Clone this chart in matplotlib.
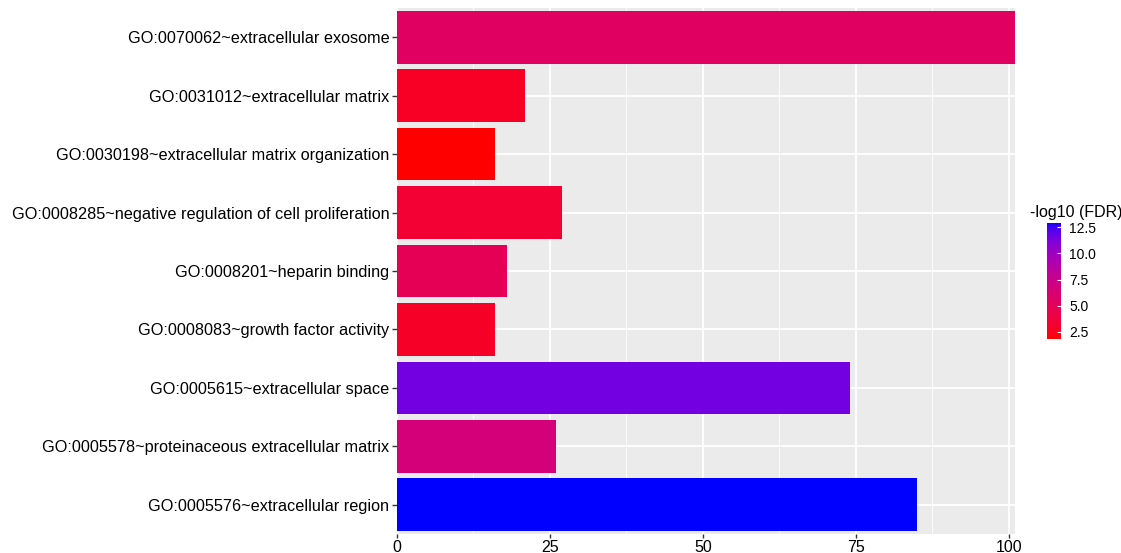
import numpy as np
import matplotlib
matplotlib.use('Agg')
import matplotlib.pyplot as plt
from matplotlib.colors import ListedColormap, Normalize
from matplotlib.cm import ScalarMappable

plt.rcParams['font.family'] = ['Liberation Sans', 'DejaVu Sans']

# GO terms, top to bottom as in the chart
terms = [
    'GO:0070062~extracellular exosome',
    'GO:0031012~extracellular matrix',
    'GO:0030198~extracellular matrix organization',
    'GO:0008285~negative regulation of cell proliferation',
    'GO:0008201~heparin binding',
    'GO:0008083~growth factor activity',
    'GO:0005615~extracellular space',
    'GO:0005578~proteinaceous extracellular matrix',
    'GO:0005576~extracellular region',
]
counts = [101, 21, 16, 27, 18, 16, 74, 26, 85]
neglog_fdr = [5.5, 2.8, 1.83, 3.4, 4.9, 2.9, 11.5, 6.6, 12.9]

x_ticks = [0, 25, 50, 75, 100]
cbar_ticks = [2.5, 5.0, 7.5, 10.0, 12.5]


def lab_to_rgb(L, a, b):
    # CIE Lab (D65) -> sRGB, clipped
    fy = (L + 16) / 116
    fx = fy + a / 500
    fz = fy - b / 200
    def finv(f):
        return np.where(f > 6 / 29, f ** 3, 3 * (6 / 29) ** 2 * (f - 4 / 29))
    X = 0.95047 * finv(fx)
    Y = finv(fy)
    Z = 1.08883 * finv(fz)
    r = 3.2406 * X - 1.5372 * Y - 0.4986 * Z
    g = -0.9689 * X + 1.8758 * Y + 0.0415 * Z
    bb = 0.0557 * X - 0.2040 * Y + 1.0570 * Z
    rgb = np.stack([r, g, bb], axis=-1).clip(0, 1)
    return np.where(rgb > 0.0031308, 1.055 * rgb ** (1 / 2.4) - 0.055, 12.92 * rgb).clip(0, 1)


# red -> blue gradient interpolated in Lab, like ggplot's scale_fill_gradient
t = np.linspace(0, 1, 256)
red_lab = np.array([53.24, 80.09, 67.20])
blue_lab = np.array([32.30, 79.19, -107.86])
lab = red_lab[None, :] * (1 - t[:, None]) + blue_lab[None, :] * t[:, None]
cmap = ListedColormap(lab_to_rgb(lab[:, 0], lab[:, 1], lab[:, 2]))
norm = Normalize(vmin=min(neglog_fdr), vmax=max(neglog_fdr))

fig = plt.figure(figsize=(11.21, 5.53), dpi=100)
W, H = 1121, 553
ax = fig.add_axes([397 / W, 1 - 534 / H, (1015 - 397) / W, (534 - 8) / H])
ax.set_facecolor('#EBEBEB')

y = np.arange(len(terms))
ax.barh(y, counts, height=0.9, color=cmap(norm(neglog_fdr)), zorder=3)

ax.set_xlim(0, 101)
ax.set_ylim(len(terms) - 0.5, -0.5)
ax.set_yticks(y)
ax.set_yticklabels(terms, fontsize=11.7)
ax.set_xticks(x_ticks)
ax.set_xticklabels([str(v) for v in x_ticks], fontsize=11.5)
ax.set_xticks([12.5, 37.5, 62.5, 87.5], minor=True)
ax.grid(which='major', color='white', linewidth=1.3, zorder=1)
ax.grid(which='minor', axis='x', color='white', linewidth=0.6, zorder=1)
ax.tick_params(axis='both', which='major', length=3.5, width=1, color='#333333', labelcolor='black', pad=2)
ax.tick_params(axis='x', which='major', length=3, pad=1)
ax.tick_params(axis='x', which='minor', length=0)
for s in ax.spines.values():
    s.set_visible(False)

# colour bar legend
cax = fig.add_axes([1047 / W, 1 - 339 / H, 14 / W, 116 / H])
cb = fig.colorbar(ScalarMappable(norm=norm, cmap=cmap), cax=cax, ticks=cbar_ticks)
cb.outline.set_visible(False)
cb.ax.set_yticklabels(['%.1f' % v for v in cbar_ticks], fontsize=10)
cb.ax.tick_params(length=3, color='white', width=0.8, pad=6, direction='in')
fig.text(1030 / W, 1 - 213 / H, '-log10 (FDR)', fontsize=11.5, va='center', ha='left')

fig.savefig('out.png', dpi=100)
